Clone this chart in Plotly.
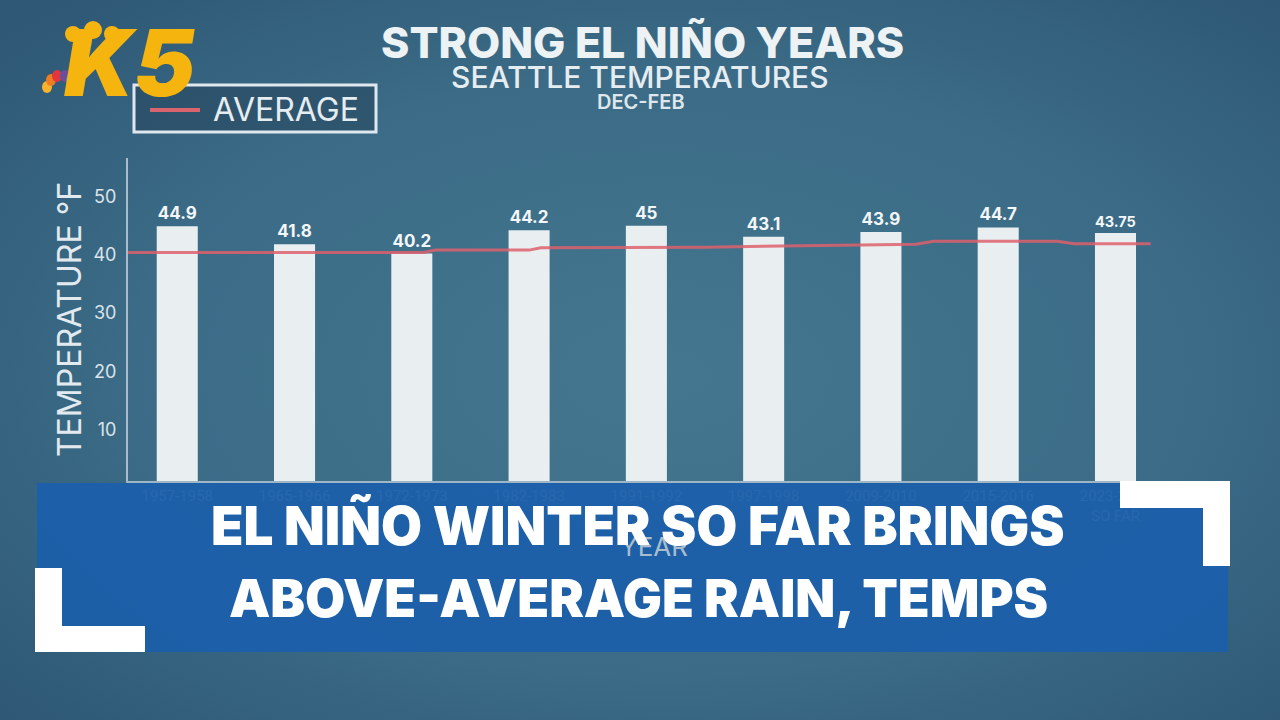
import base64
import plotly.graph_objects as go

# ---- data ----
categories = ["1957-1958", "1965-1966", "1972-1973", "1982-1983", "1991-1992",
              "1997-1998", "2009-2010", "2015-2016", "2023-2024<br>SO FAR"]
temps = [44.9, 41.8, 40.2, 44.2, 45, 43.1, 43.9, 44.7, 43.75]
temp_labels = ["44.9", "41.8", "40.2", "44.2", "45", "43.1", "43.9", "44.7", "43.75"]
# running average line (x in category units, y in °F)
avg_x = [-0.42, 2.1, 2.2, 3.0, 3.1, 4.5, 5.5, 6.3, 6.45, 7.5, 7.65, 8.3]
avg_y = [40.4, 40.4, 40.8, 40.8, 41.2, 41.3, 41.6, 41.8, 42.3, 42.3, 41.9, 41.9]
y_ticks = [10, 20, 30, 40, 50]

W, H = 1280, 720
L, R, T, B = 128, 100, 158, 239
FONT = "Inter"

def px(x):
    return (x - L) / (W - L - R)

def py(y):
    return (H - B - y) / (H - T - B)

fig = go.Figure()
fig.add_trace(go.Bar(
    x=list(range(len(categories))), y=temps, width=0.35,
    marker=dict(color="#e9eef1", line=dict(width=0)),
    text=temp_labels, textposition="outside", cliponaxis=False,
    textfont=dict(family=FONT, size=17, color="#f4f7f9", weight=700),
    name="Temperature", showlegend=False,
))
fig.add_trace(go.Scatter(
    x=avg_x, y=avg_y, mode="lines",
    line=dict(color="rgba(222,96,108,0.85)", width=3),
    name="AVERAGE", showlegend=False,
))

# background radial gradient
svg = f'''<svg xmlns="http://www.w3.org/2000/svg" width="{W}" height="{H}">
<defs><radialGradient id="g" cx="52%" cy="52%" r="70%">
<stop offset="0%" stop-color="#44778f"/><stop offset="60%" stop-color="#3b6b86"/>
<stop offset="100%" stop-color="#2e5875"/></radialGradient></defs>
<rect width="{W}" height="{H}" fill="url(#g)"/></svg>'''
src = "data:image/svg+xml;base64," + base64.b64encode(svg.encode()).decode()

shapes = []
annotations = []

# legend box
shapes.append(dict(type="rect", xref="paper", yref="paper",
                   x0=px(134), x1=px(376), y0=py(132), y1=py(85),
                   line=dict(color="#dfe8ee", width=3),
                   fillcolor="rgba(38,70,92,0.55)", layer="above"))
shapes.append(dict(type="line", xref="paper", yref="paper",
                   x0=px(150), x1=px(200), y0=py(110), y1=py(110),
                   line=dict(color="#d9646e", width=4), layer="above"))
annotations.append(dict(text="AVERAGE", xref="paper", yref="paper",
                        x=px(211), y=py(109), xanchor="left", yanchor="middle",
                        showarrow=False,
                        font=dict(family=FONT, size=32, color="#e6edf1", weight=400)))

# titles
annotations.append(dict(text="STRONG EL NIÑO YEARS", xref="paper", yref="paper",
                        x=px(642), y=py(42), xanchor="center", yanchor="middle",
                        showarrow=False,
                        font=dict(family=FONT, size=43, color="#edf2f5", weight=800)))
annotations.append(dict(text="SEATTLE TEMPERATURES", xref="paper", yref="paper",
                        x=px(640), y=py(77), xanchor="center", yanchor="middle",
                        showarrow=False,
                        font=dict(family=FONT, size=30, color="#e6edf1", weight=500)))
annotations.append(dict(text="DEC-FEB", xref="paper", yref="paper",
                        x=px(641), y=py(102), xanchor="center", yanchor="middle",
                        showarrow=False,
                        font=dict(family=FONT, size=20, color="#dfe7ec", weight=600)))

# logo (approximation)
annotations.append(dict(text="<i>K5</i>", xref="paper", yref="paper",
                        x=px(62), y=py(63), xanchor="left", yanchor="middle",
                        showarrow=False,
                        font=dict(family=FONT, size=92, color="#f6b40e", weight=900)))
for cx, cy, r in [(73, 34, 8), (93, 30, 9), (112, 34, 8)]:
    shapes.append(dict(type="circle", xref="paper", yref="paper",
                       x0=px(cx - r), x1=px(cx + r), y0=py(cy + r), y1=py(cy - r),
                       fillcolor="#f6b40e", line=dict(width=0), layer="above"))
for (cx, cy), col in zip([(47, 87), (51, 80), (57, 76), (65, 76), (71, 80), (75, 87)],
                         ["#f7b32b", "#ef7d22", "#e2363f", "#6c4d9c", "#1b8bd0", "#3aa64a"]):
    shapes.append(dict(type="circle", xref="paper", yref="paper",
                       x0=px(cx - 5), x1=px(cx + 5), y0=py(cy + 6), y1=py(cy - 6),
                       fillcolor=col, line=dict(width=0), layer="above"))

# banner
shapes.append(dict(type="rect", xref="paper", yref="paper",
                   x0=px(37), x1=px(1228), y0=py(652), y1=py(483),
                   fillcolor="rgba(26,94,172,0.91)", line=dict(width=0), layer="above"))
for x0, x1, y0, y1 in [(1120, 1230, 481, 508), (1203, 1230, 481, 566),
                       (35, 62, 568, 652), (35, 145, 626, 652)]:
    shapes.append(dict(type="rect", xref="paper", yref="paper",
                       x0=px(x0), x1=px(x1), y0=py(y1), y1=py(y0),
                       fillcolor="#ffffff", line=dict(width=0), layer="above"))
annotations.append(dict(text="EL NIÑO WINTER SO FAR BRINGS", xref="paper", yref="paper",
                        x=px(638), y=py(526), xanchor="center", yanchor="middle",
                        showarrow=False,
                        font=dict(family=FONT, size=53, color="#ffffff", weight=900)))
annotations.append(dict(text="ABOVE-AVERAGE RAIN, TEMPS", xref="paper", yref="paper",
                        x=px(638), y=py(598), xanchor="center", yanchor="middle",
                        showarrow=False,
                        font=dict(family=FONT, size=52, color="#ffffff", weight=900)))

fig.update_layout(
    width=W, height=H,
    margin=dict(l=L, r=R, t=T, b=B, pad=0),
    paper_bgcolor="#3b6882", plot_bgcolor="rgba(0,0,0,0)",
    images=[dict(source=src, xref="paper", yref="paper", x=px(0), y=py(0),
                 sizex=px(W) - px(0), sizey=py(0) - py(H),
                 xanchor="left", yanchor="top", sizing="stretch", layer="below")],
    shapes=shapes, annotations=annotations,
    xaxis=dict(range=[-0.42, 8.55], tickvals=list(range(len(categories))),
               ticktext=categories, showgrid=False, zeroline=False,
               showline=True, linecolor="#9fb6c6", linewidth=2,
               tickfont=dict(family="Roboto", size=15, color="#a9bdcc"),
               title=dict(text="YEAR", standoff=14,
                          font=dict(family=FONT, size=26, color="#a9bdcc"))),
    yaxis=dict(range=[1.2, 56.6], tickvals=y_ticks, showgrid=False, zeroline=False,
               showline=True, linecolor="#a9bccb", linewidth=2, ticks="",
               ticklabelstandoff=6,
               tickfont=dict(family=FONT, size=18, color="#dbe4ea"),
               title=dict(text="TEMPERATURE °F", standoff=2,
                          font=dict(family=FONT, size=32, color="#e3eaef"))),
    bargap=0.5,
)

fig.write_html("out.html")
